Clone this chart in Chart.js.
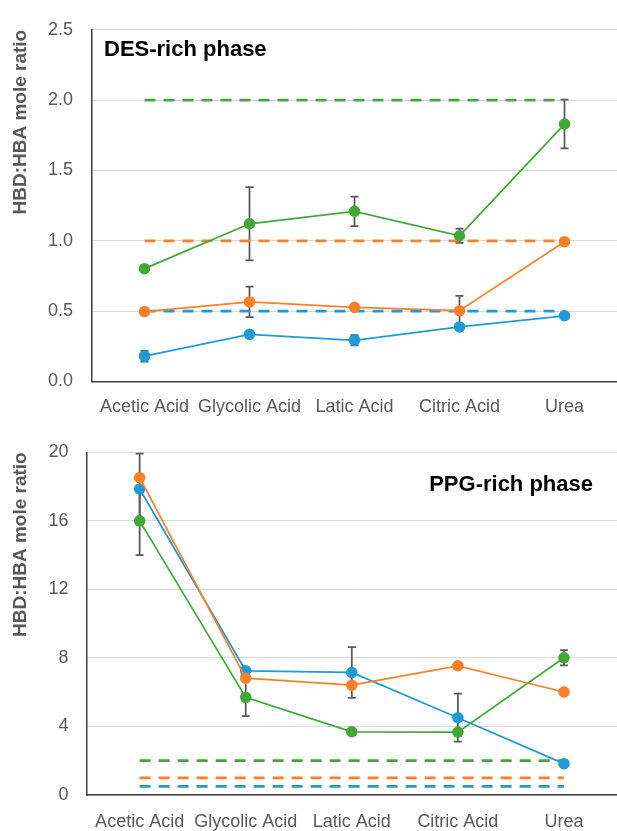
<!DOCTYPE html>
<html>
<head>
<meta charset="utf-8">
<script src="https://cdn.jsdelivr.net/npm/chart.js@4.4.0/dist/chart.umd.min.js"></script>
<style>
  html, body { margin: 0; padding: 0; background: #fff; }
  #wrap { position: relative; width: 617px; height: 831px; }
  canvas { position: absolute; left: 0; }
</style>
</head>
<body>
<div id="wrap">
  <canvas id="desChart" width="617" height="420" style="top:0"></canvas>
  <canvas id="ppgChart" width="617" height="411" style="top:420px"></canvas>
</div>
<script>
var categories = ['Acetic Acid', 'Glycolic Acid', 'Latic Acid', 'Citric Acid', 'Urea'];

// DES-rich phase
var desTicks = [0, 0.5, 1.0, 1.5, 2.0, 2.5];
var desBlue = [0.18, 0.335, 0.293, 0.388, 0.467];
var desBlueErr = [0.038, 0, 0.037, 0, 0];
var desOrange = [0.497, 0.566, 0.527, 0.503, 0.994];
var desOrangeErr = [0, 0.108, 0, 0.105, 0];
var desGreen = [0.802, 1.121, 1.21, 1.036, 1.83];
var desGreenErr = [0, 0.26, 0.105, 0.05, 0.173];

// PPG-rich phase
var ppgTicks = [0, 4, 8, 12, 16, 20];
var ppgBlue = [17.86, 7.25, 7.15, 4.51, 1.83];
var ppgBlueErr = [2.06, 0, 1.48, 1.4, 0];
var ppgOrange = [18.52, 6.82, 6.41, 7.54, 6.01];
var ppgOrangeErr = [0, 0, 0, 0, 0];
var ppgGreen = [16.0, 5.70, 3.69, 3.67, 8.01];
var ppgGreenErr = [2.0, 1.09, 0, 0, 0.45];

// nominal HBD:HBA ratios (dashed lines)
var nominalBlue = [0.5, 0.5, 0.5, 0.5, 0.5];
var nominalOrange = [1, 1, 1, 1, 1];
var nominalGreen = [2, 2, 2, 2, 2];

var BLUE = '#1E9AD6', ORANGE = '#FF7F27', GREEN = '#41A837';

Chart.defaults.font.family = '"Liberation Sans", Arial, sans-serif';
Chart.defaults.font.size = 18;
Chart.defaults.color = '#595959';

var errorBars = {
  id: 'errorBars',
  beforeDatasetsDraw: function(chart) {
    var ctx = chart.ctx, ys = chart.scales.y;
    ctx.save();
    ctx.strokeStyle = '#595959';
    ctx.lineWidth = 1.75;
    chart.data.datasets.forEach(function(ds, i) {
      if (!ds.errors) return;
      var meta = chart.getDatasetMeta(i);
      ds.errors.forEach(function(e, j) {
        if (!e) return;
        var px = meta.data[j].x;
        var top = ys.getPixelForValue(ds.data[j] + e);
        var bot = ys.getPixelForValue(ds.data[j] - e);
        ctx.beginPath();
        ctx.moveTo(px, top); ctx.lineTo(px, bot);
        ctx.moveTo(px - 4, top); ctx.lineTo(px + 4, top);
        ctx.moveTo(px - 4, bot); ctx.lineTo(px + 4, bot);
        ctx.stroke();
      });
    });
    ctx.restore();
  }
};

var phaseLabel = {
  id: 'phaseLabel',
  afterDraw: function(chart, args, o) {
    var ctx = chart.ctx;
    ctx.save();
    ctx.font = 'bold 22px "Liberation Sans", Arial, sans-serif';
    ctx.fillStyle = '#000';
    ctx.textBaseline = 'middle';
    ctx.textAlign = o.align;
    ctx.fillText(o.text, o.x, o.y);
    ctx.restore();
  }
};

function solid(label, color, data, errors) {
  return {
    label: label, data: data, errors: errors,
    borderColor: color, backgroundColor: color,
    borderWidth: 1.75, tension: 0,
    pointRadius: 5.75, pointBorderWidth: 0, pointBackgroundColor: color
  };
}

function dashed(label, color, data) {
  return {
    label: label, data: data,
    borderColor: color, borderWidth: 2.75, borderDash: [11, 8],
    pointRadius: 0, tension: 0
  };
}

function makeChart(id, p) {
  return new Chart(document.getElementById(id), {
    type: 'line',
    data: { labels: categories, datasets: p.datasets },
    plugins: [errorBars, phaseLabel],
    options: {
      responsive: false,
      animation: false,
      layout: { autoPadding: false, padding: { top: p.top, right: 0, bottom: 0, left: 0 } },
      plugins: {
        legend: { display: false },
        tooltip: { enabled: false },
        phaseLabel: p.label
      },
      scales: {
        x: {
          offset: true,
          afterFit: function(s) { s.height = p.xHeight; },
          grid: { display: false, drawTicks: false },
          border: { display: true, color: '#404040', width: 1.5 },
          ticks: { padding: p.xPad, autoSkip: false, maxRotation: 0, minRotation: 0 }
        },
        y: {
          min: p.ticks[0], max: p.ticks[p.ticks.length - 1],
          afterFit: function(s) { s.width = p.yWidth; },
          afterBuildTicks: function(s) {
            s.ticks = p.ticks.map(function(v) { return { value: v }; });
          },
          ticks: { padding: p.yPad, callback: p.fmt },
          grid: { color: '#d9d9d9', lineWidth: 1, drawTicks: false },
          border: { display: true, color: '#404040', width: 1.5 },
          title: {
            display: true, text: 'HBD:HBA mole ratio', align: 'end',
            font: { size: 19, weight: 'bold' }, color: '#595959',
            padding: { top: 9, bottom: 0 }
          }
        }
      }
    }
  });
}

makeChart('desChart', {
  top: 21.5, xHeight: 38.5, xPad: 15, yWidth: 92, yPad: 19,
  ticks: desTicks,
  fmt: function(v) { return v.toFixed(1); },
  label: { text: 'DES-rich phase', x: 104, y: 50, align: 'left' },
  datasets: [
    solid('HBD:HBA 1:2', GREEN, desGreen, desGreenErr),
    solid('HBD:HBA 1:1', ORANGE, desOrange, desOrangeErr),
    solid('HBD:HBA 1:0.5', BLUE, desBlue, desBlueErr),
    dashed('Nominal 2', GREEN, nominalGreen),
    dashed('Nominal 1', ORANGE, nominalOrange),
    dashed('Nominal 0.5', BLUE, nominalBlue)
  ]
});

makeChart('ppgChart', {
  top: 32.3, xHeight: 36, xPad: 16, yWidth: 86.6, yPad: 18,
  ticks: ppgTicks,
  fmt: function(v) { return String(v); },
  label: { text: 'PPG-rich phase', x: 593, y: 65, align: 'right' },
  datasets: [
    solid('HBD:HBA 1:1', ORANGE, ppgOrange, ppgOrangeErr),
    solid('HBD:HBA 1:2', GREEN, ppgGreen, ppgGreenErr),
    solid('HBD:HBA 1:0.5', BLUE, ppgBlue, ppgBlueErr),
    dashed('Nominal 2', GREEN, nominalGreen),
    dashed('Nominal 1', ORANGE, nominalOrange),
    dashed('Nominal 0.5', BLUE, nominalBlue)
  ]
});
</script>
</body>
</html>
